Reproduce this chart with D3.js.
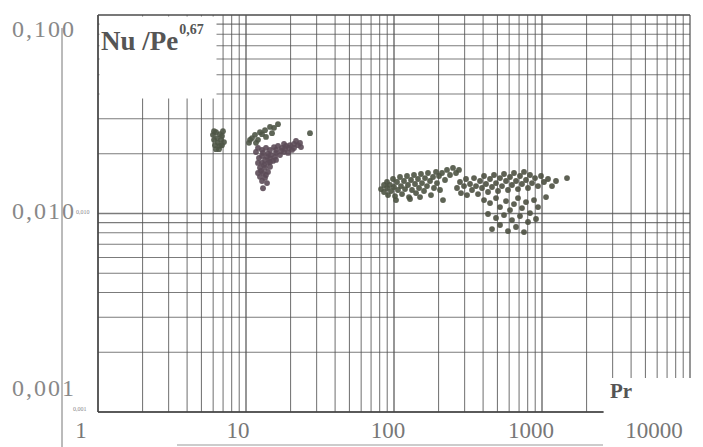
<!DOCTYPE html>
<html><head><meta charset="utf-8">
<script src="https://cdn.jsdelivr.net/npm/d3@7"></script>
<style>body{margin:0;background:#fff}svg{display:block}</style>
</head><body>
<script>
// ---- data ----
const xTickValues = [1, 10, 100, 1000, 10000];
const xTickLabels = ["1", "10", "100", "1000", "10000"];
const yTickValues = [0.1, 0.01, 0.001];
const yTickLabels = ["0,100", "0,010", "0,001"];

// cluster 1 (Pr ~ 6-7)
const prA = [5.98, 6.08, 6.17, 6.27, 6.37, 6.46, 6.57, 6.67, 6.78, 6.88, 6.99, 6.27, 6.67, 7.10, 6.08, 6.88];
const nuA = [0.0249, 0.0235, 0.0221, 0.0257, 0.0240, 0.0227, 0.0211, 0.0251, 0.0235, 0.0246, 0.0260, 0.0211, 0.0219, 0.0229, 0.0260, 0.0221];
// cluster 2, upper scattered points
const prB = [16.45, 15.46, 14.53, 13.44, 12.83, 12.43, 11.50, 10.98, 10.64, 12.05, 13.65, 14.99, 27.06, 10.48, 11.68];
const nuB = [0.0282, 0.0270, 0.0273, 0.0263, 0.0251, 0.0257, 0.0249, 0.0240, 0.0235, 0.0235, 0.0243, 0.0254, 0.0254, 0.0227, 0.0227];
// cluster 2, dense blob
const prC = [12.05, 12.83, 13.65, 14.53, 15.46, 16.45, 17.51, 18.64, 19.83, 21.11, 22.46, 23.53, 20.46, 18.06, 15.95, 14.08, 12.83, 13.44, 14.53, 15.70, 16.97, 19.23, 12.83, 14.08, 15.22, 12.43, 13.44, 14.53, 13.03, 14.08, 12.43, 13.44, 13.03,
             11.68, 12.24, 13.03, 13.87, 14.76, 15.95, 17.24, 18.34, 19.53, 21.11, 12.05, 13.23, 14.53, 15.95, 12.63, 13.65, 12.83, 13.87, 12.05, 21.77, 23.17, 18.06];
const nuC = [0.0214, 0.0209, 0.0214, 0.0209, 0.0216, 0.0219, 0.0214, 0.0219, 0.0221, 0.0224, 0.0221, 0.0216, 0.0209, 0.0204, 0.0202, 0.0200, 0.0195, 0.0186, 0.0190, 0.0193, 0.0197, 0.0202, 0.0180, 0.0180, 0.0184, 0.0170, 0.0170, 0.0172, 0.0160, 0.0162, 0.0153, 0.0151, 0.0134,
             0.02041, 0.01904, 0.02018, 0.01927, 0.01972, 0.02089, 0.02065, 0.02114, 0.02138, 0.02138, 0.01797, 0.01757, 0.01818, 0.01861, 0.01637, 0.01563, 0.01458, 0.01424, 0.01600, 0.02319, 0.02266, 0.02239];
// cluster 3 (Pr ~ 80-280)
const prD = [81.7, 85.6, 85.6, 89.7, 89.7, 91.1, 94.0, 95.4, 98.5, 100.0, 101.6, 104.8, 106.4, 109.8, 111.5, 113.3, 116.8, 118.7, 122.4, 124.3, 126.3, 130.3, 132.3, 136.5, 138.7, 140.9, 145.3, 147.6, 152.2, 154.6, 159.5, 162.0, 167.1, 169.7, 175.1, 177.8, 183.5, 186.3, 192.2, 195.2, 201.4, 204.6, 211.0, 214.3, 221.1, 228.1, 239.0, 250.4, 262.4, 274.9, 103.2, 128.3, 149.9];
const nuD = [0.01328, 0.01392, 0.01283, 0.01441, 0.01344, 0.01239, 0.01392, 0.01298, 0.01492, 0.01360, 0.01224, 0.01441, 0.01313, 0.01527, 0.01375, 0.01253, 0.01458, 0.01328, 0.01545, 0.01392, 0.01210, 0.01475, 0.01313, 0.01563, 0.01408, 0.01268, 0.01492, 0.01344, 0.01581, 0.01424, 0.01298, 0.01509, 0.01375, 0.01600, 0.01458, 0.01239, 0.01527, 0.01344, 0.01619, 0.01424, 0.01545, 0.01313, 0.01600, 0.01169, 0.01475, 0.01657, 0.01563, 0.01696, 0.01600, 0.01657, 0.01169, 0.01183, 0.01210];
// cluster 4 (Pr ~ 270-1500)
const prE = [266.5, 279.2, 283.6, 297.2, 306.6, 311.4, 326.3, 336.6, 347.2, 358.2, 369.5, 381.2, 393.2, 405.7, 418.5, 431.7, 445.4, 459.4, 473.9, 488.9, 504.4, 520.3, 536.7, 553.7, 571.2, 589.2, 607.8, 627.0, 646.8, 667.3, 688.3, 710.1, 732.5, 755.7, 779.6, 804.2, 829.6, 855.9, 896.8, 939.7, 984.6, 1031.6, 1097.8, 1168.3, 1243.3, 1475.5,
             405.7, 445.4, 488.9, 520.3, 571.2, 607.8, 646.8, 688.3, 732.5, 779.6, 829.6, 883.0, 939.7, 431.7, 488.9, 553.7, 627.0, 710.1, 804.2, 459.4, 520.3, 589.2, 667.3, 755.7, 910.9, 1064.3];
const nuE = [0.01344, 0.01441, 0.01268, 0.01375, 0.01492, 0.01239, 0.01408, 0.01313, 0.01509, 0.01375, 0.01253, 0.01458, 0.01344, 0.01545, 0.01408, 0.01283, 0.01492, 0.01360, 0.01563, 0.01424, 0.01298, 0.01509, 0.01375, 0.01581, 0.01458, 0.01313, 0.01527, 0.01392, 0.01600, 0.01458, 0.01328, 0.01545, 0.01408, 0.01619, 0.01475, 0.01344, 0.01563, 0.01424, 0.01509, 0.01375, 0.01545, 0.01441, 0.01492, 0.01375, 0.01458, 0.01509,
             0.01169, 0.01129, 0.01196, 0.01078, 0.01155, 0.01041, 0.01116, 0.01196, 0.01065, 0.01142, 0.01005, 0.01169, 0.01078, 0.00994, 0.00949, 0.00982, 0.00927, 0.00971, 0.00906, 0.00835, 0.00875, 0.00816, 0.00855, 0.00806, 0.00938, 0.01210];

// ---- layout ----
const W = 703, H = 447;
const svg = d3.select("body").append("svg").attr("width", W).attr("height", H);
const x = d3.scaleLog().domain([1, 10000]).range([98, 690]);
const y = d3.scaleLog().domain([0.001, 0.1]).range([412, 15]);

const gridCol = "#505050";
const xGrid = [], yGrid = [];
for (let e = 0; e < 4; e++) for (let k = 1; k < 10; k++) xGrid.push(k * Math.pow(10, e));
xGrid.push(10000);
for (let e = -3; e < -1; e++) for (let k = 1; k < 10; k++) yGrid.push(k * Math.pow(10, e));
yGrid.push(0.1);
const isMajor = d => Math.abs(Math.log10(d) - Math.round(Math.log10(d))) < 1e-9;

const g = svg.append("g");
g.selectAll("line.vx").data(xGrid).join("line")
  .attr("x1", d => x(d)).attr("x2", d => x(d))
  .attr("y1", y(0.1)).attr("y2", y(0.001))
  .attr("stroke", gridCol)
  .attr("stroke-width", d => isMajor(d) ? 1.6 : 1.1)
  .attr("opacity", 0.75);
g.selectAll("line.hy").data(yGrid).join("line")
  .attr("x1", x(1)).attr("x2", x(10000))
  .attr("y1", d => y(d)).attr("y2", d => y(d))
  .attr("stroke", gridCol)
  .attr("stroke-width", d => isMajor(d) ? 1.6 : 1.1)
  .attr("opacity", 0.75);

// blank areas of the scan
svg.append("rect").attr("x", 99.5).attr("y", 16.5).attr("width", 117).attr("height", 82).attr("fill", "#fff");
svg.append("rect").attr("x", 604).attr("y", 378).attr("width", 99).attr("height", 69).attr("fill", "#fff");

// frame lines
svg.append("line").attr("x1", x(1)).attr("x2", x(1)).attr("y1", y(0.1)).attr("y2", y(0.001)).attr("stroke", "#444").attr("stroke-width", 1.4);
svg.append("line").attr("x1", x(1)).attr("x2", 603).attr("y1", y(0.001)).attr("y2", y(0.001)).attr("stroke", "#444").attr("stroke-width", 1.6);
svg.append("line").attr("x1", x(1)).attr("x2", x(10000)).attr("y1", y(0.1)).attr("y2", y(0.1)).attr("stroke", "#555").attr("stroke-width", 1.2);
svg.append("line").attr("x1", 62).attr("x2", 62).attr("y1", 28).attr("y2", 447).attr("stroke", "#777").attr("stroke-width", 1);
svg.append("line").attr("x1", 177).attr("x2", 603).attr("y1", 445).attr("y2", 445).attr("stroke", "#999").attr("stroke-width", 1.2);

// data points
const dot = (pr, nu, col) => svg.append("g").selectAll("circle").data(pr.map((p, i) => [p, nu[i]])).join("circle")
  .attr("cx", d => x(d[0])).attr("cy", d => y(d[1])).attr("r", 2.9)
  .attr("fill", col).attr("opacity", 0.9);
dot(prA, nuA, "#4e5546");
dot(prB, nuB, "#4e5546");
dot(prC, nuC, "#5c4b58");
dot(prD, nuD, "#4c5343");
dot(prE, nuE, "#4c5041");

// axis labels
const serif = "'Liberation Serif','DejaVu Serif',serif";
const xLabelShift = [-17, -8, -6, -11, -36];
svg.append("g").selectAll("text").data(xTickValues).join("text")
  .attr("x", (d, i) => x(d) + xLabelShift[i]).attr("y", 438)
  .attr("text-anchor", "middle").attr("font-family", serif).attr("font-size", 23)
  .attr("fill", "#777").text((d, i) => xTickLabels[i]);
const yLabelY = [37, 219, 396];
svg.append("g").selectAll("text").data(yTickValues).join("text")
  .attr("x", 12).attr("y", (d, i) => yLabelY[i])
  .attr("font-family", serif).attr("font-size", 24).attr("textLength", 62)
  .attr("fill", "#888").text((d, i) => yTickLabels[i]);
// tiny scan labels
svg.append("text").attr("x", 76).attr("y", 214).attr("font-family", serif).attr("font-size", 6).attr("fill", "#888").text("0,010");
svg.append("text").attr("x", 73).attr("y", 411).attr("font-family", serif).attr("font-size", 6).attr("fill", "#888").text("0,001");

// titles
const t = svg.append("text").attr("x", 101).attr("y", 50).attr("font-family", serif).attr("font-weight", "bold").attr("fill", "#555");
t.append("tspan").attr("font-size", 27).text("Nu /Pe");
t.append("tspan").attr("font-size", 14).attr("dy", -16).attr("dx", 1).text("0,67");
svg.append("text").attr("x", 610).attr("y", 398).attr("font-family", serif).attr("font-weight", "bold")
  .attr("font-size", 21).attr("fill", "#555").text("Pr");
</script>
</body></html>
